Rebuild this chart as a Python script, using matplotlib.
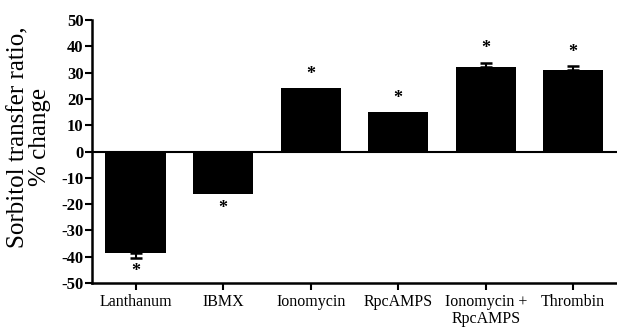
import matplotlib
matplotlib.use('Agg')
import matplotlib.pyplot as plt

treatments = ['Lanthanum', 'IBMX', 'Ionomycin', 'RpcAMPS', 'Ionomycin +\nRpcAMPS', 'Thrombin']
change = [-38.7, -16.3, 24.0, 14.9, 32.0, 31.0]
sem = [1.6, 0.0, 0.0, 0.0, 1.7, 1.4]
y_ticks = list(range(-50, 51, 10))

plt.rcParams['font.family'] = ['Liberation Serif', 'DejaVu Serif']
plt.rcParams['axes.unicode_minus'] = False

fig = plt.figure(figsize=(6.17, 3.28), dpi=100)
ax = fig.add_axes([0.149, 0.137, 0.851, 0.802])

x = list(range(len(treatments)))
ax.bar(x, change, width=0.69, color='black', zorder=2)

# error caps only where the SEM is large enough to show
for xi, v, s in zip(x, change, sem):
    if s > 0:
        yerr = [[s], [0]] if v < 0 else [[0], [s]]
        ax.errorbar([xi], [v], yerr=yerr, fmt='none', ecolor='black',
                    elinewidth=1.5, capsize=4, capthick=1.8, zorder=3)

for xi, v, s in zip(x, change, sem):
    sign = 1 if v > 0 else -1
    ax.annotate('*', (xi, v + sign * s), xytext=(0, sign * 10),
                textcoords='offset points', ha='center', va='center',
                fontsize=13, fontweight='bold')

ax.axhline(0, color='black', lw=1.5, zorder=4)

ax.set_xlim(-0.5, 5.5)
ax.set_ylim(-50, 50)
ax.set_yticks(y_ticks)
ax.set_xticks(x)
ax.set_xticklabels(treatments, fontsize=11.5, linespacing=1.05)
ax.set_yticklabels([str(t) for t in y_ticks], fontsize=12, fontweight='bold')
ax.tick_params(axis='y', direction='out', length=5, width=1.5, pad=1)
ax.tick_params(axis='x', direction='out', length=5, width=1.5, pad=3)
ax.spines['top'].set_visible(False)
ax.spines['right'].set_visible(False)
ax.spines['left'].set_linewidth(1.8)
ax.spines['bottom'].set_linewidth(1.8)
ax.set_ylabel('Sorbitol transfer ratio,\n% change', fontsize=18, linespacing=0.95)
ax.yaxis.set_label_coords(-0.078, 0.555)

fig.savefig('out.png', dpi=100)
